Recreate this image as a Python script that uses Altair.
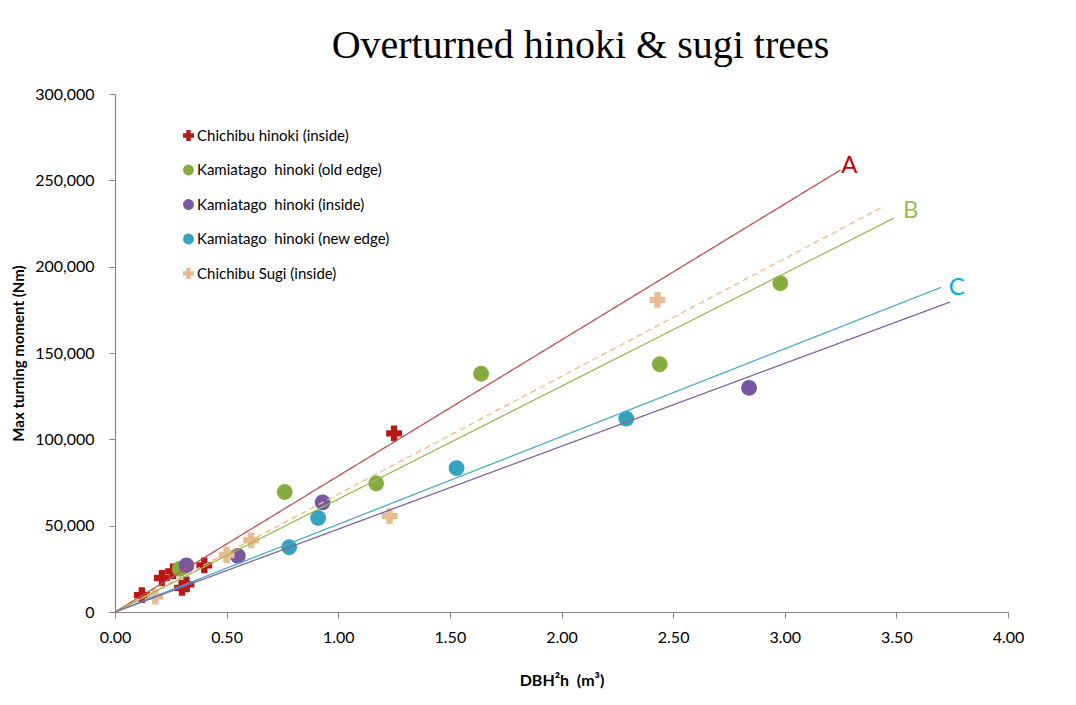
import altair as alt
import pandas as pd

# ---- data ----
series_names = [
    "Chichibu hinoki (inside)",
    "Kamiatago\u00a0 hinoki (old edge)",
    "Kamiatago\u00a0 hinoki (inside)",
    "Kamiatago\u00a0 hinoki (new edge)",
    "Chichibu Sugi (inside)",
]
marker_colors = ["#B81818", "#86AC40", "#7558A0", "#35A2C0", "#E8BC92"]
marker_shapes = ["cross", "circle", "circle", "circle", "cross"]

red_x = [0.12, 0.21, 0.26, 0.30, 0.32, 0.40, 1.25]
red_y = [9800, 19700, 23500, 14000, 16000, 27000, 103500]

green_x = [0.29, 0.76, 1.17, 1.64, 2.44, 2.98]
green_y = [25000, 69500, 74500, 138000, 143500, 190500]

purple_x = [0.32, 0.55, 0.93, 2.84]
purple_y = [27000, 32500, 63500, 129800]

cyan_x = [0.78, 0.91, 1.53, 2.29]
cyan_y = [37500, 54500, 83300, 112000]

sugi_x = [0.18, 0.50, 0.61, 1.23, 2.43]
sugi_y = [8900, 33000, 41500, 55500, 180800]

# trend lines: start and end
line_names = ["A", "Sugi", "B", "C", "Purple"]
line_x_end = [3.25, 3.43, 3.49, 3.70, 3.74]
line_y_end = [256000, 234000, 228200, 188000, 179500]
line_colors = ["#C0504D", "#F9B57A", "#9BBB59", "#4BACC6", "#8064A2"]
line_dash = [[1, 0], [6, 4], [1, 0], [1, 0], [1, 0]]

label_text = ["A", "B", "C"]
label_x = [3.29, 3.565, 3.77]
label_y = [258500, 232000, 187500]
label_colors = ["#C00000", "#9BBB59", "#00B0F0"]

x_ticks = [0, 0.5, 1, 1.5, 2, 2.5, 3, 3.5, 4]
y_ticks = [0, 50000, 100000, 150000, 200000, 250000, 300000]

# ---- build tables ----
rows = []
for name, xs, ys in zip(series_names,
                        [red_x, green_x, purple_x, cyan_x, sugi_x],
                        [red_y, green_y, purple_y, cyan_y, sugi_y]):
    for x, y in zip(xs, ys):
        rows.append({"series": name, "x": x, "y": y})
pts = pd.DataFrame(rows)

lrows = []
for n, xe, ye in zip(line_names, line_x_end, line_y_end):
    lrows.append({"line": n, "x": 0.0, "y": 0.0})
    lrows.append({"line": n, "x": xe, "y": ye})
lines = pd.DataFrame(lrows)

labs = pd.DataFrame({"t": label_text, "x": label_x, "y": label_y, "c": label_colors})

FONT = "Lato"

xscale = alt.Scale(domain=[0, 4], nice=False, zero=True)
yscale = alt.Scale(domain=[0, 300000], nice=False)

xaxis = alt.Axis(values=x_ticks, format=".2f", labelFlush=False, labelPadding=11,
                 title="DBH²h\u00a0 (m³)", grid=False, titlePadding=27)
yaxis = alt.Axis(values=y_ticks, format=",d", labelFlush=False, labelPadding=15,
                 title="Max turning moment (Nm)", grid=False, titlePadding=8)

X = alt.X("x:Q", scale=xscale, axis=xaxis)
Y = alt.Y("y:Q", scale=yscale, axis=yaxis)

points = alt.Chart(pts).mark_point(filled=True, opacity=1).encode(
    x=X,
    y=Y,
    color=alt.Color("series:N",
                    scale=alt.Scale(domain=series_names, range=marker_colors),
                    legend=alt.Legend(orient="none", legendX=66, legendY=34,
                                      title=None, labelFont=FONT,
                                      labelFontSize=15, labelColor="#000000",
                                      labelLimit=400,
                                      symbolSize=120, rowPadding=18.5,
                                      labelOffset=1, symbolStrokeWidth=0)),
    shape=alt.Shape("series:N",
                    scale=alt.Scale(domain=series_names, range=marker_shapes)),
    size=alt.value(250),
)

trend = alt.Chart(lines).mark_line(strokeWidth=1.3).encode(
    x=X,
    y=Y,
    detail="line:N",
    color=alt.Color("line:N", scale=alt.Scale(domain=line_names, range=line_colors),
                    legend=None),
    strokeDash=alt.StrokeDash("line:N",
                              scale=alt.Scale(domain=line_names, range=line_dash),
                              legend=None),
)

labels = alt.Chart(labs).mark_text(font=FONT, fontSize=24, align="center",
                                   baseline="middle").encode(
    x=X,
    y=Y,
    text="t:N",
    color=alt.Color("c:N", scale=None),
)

chart = alt.layer(points, trend, labels).resolve_scale(
    color="independent", shape="independent", strokeDash="independent"
).properties(
    width=893, height=518,
    autosize=alt.AutoSizeParams(type="none"),
    padding={"left": 107, "top": 86, "right": 56, "bottom": 80},
    title=alt.TitleParams("Overturned hinoki & sugi trees", font="Liberation Serif",
                          fontSize=40, fontWeight="normal", color="#000000",
                          anchor="middle", dx=19, offset=20),
).configure_view(stroke=None).configure_axis(
    labelFont=FONT, labelFontSize=16, labelColor="#000000",
    titleFont=FONT, titleFontSize=16, titleFontWeight="bold", titleColor="#000000",
    domainColor="#868686", tickColor="#868686", tickSize=6, domainWidth=1.2,
).configure_axisY(titleFontSize=15)

chart.save("out.html", embed_options={"renderer": "svg", "actions": False})
